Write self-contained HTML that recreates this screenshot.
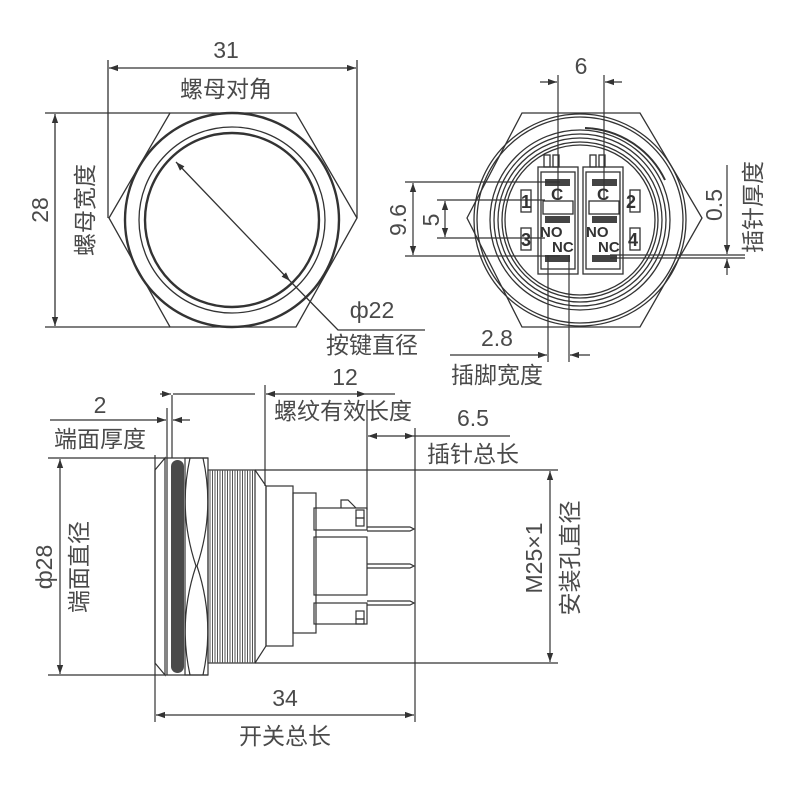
<!DOCTYPE html>
<html><head><meta charset="utf-8"><style>
html,body{margin:0;padding:0;background:#fff}
svg{display:block}
text{font-family:"Liberation Sans","Noto Sans CJK SC",sans-serif;fill:#4a4a4a;font-size:23px}
</style></head><body>
<svg width="800" height="800" viewBox="0 0 800 800" xmlns="http://www.w3.org/2000/svg">
<defs>
<marker id="a" viewBox="0 0 10 10" refX="10" refY="5" markerWidth="9" markerHeight="9" orient="auto-start-reverse" markerUnits="userSpaceOnUse"><path d="M0,1.5 L10,5 L0,8.5 z" fill="#333"/></marker>
</defs>
<g stroke="#333" fill="none" stroke-width="1.3">
<polygon points="109,218 170,113 296,113 357,218 296,327 170,327"/>
<circle cx="232" cy="220" r="107" stroke-width="2.4"/>
<circle cx="232" cy="220" r="93"/>
<circle cx="232" cy="220" r="87" stroke-width="2.4"/>
<line x1="176" y1="162" x2="290" y2="281" marker-start="url(#a)" marker-end="url(#a)"/>
<polyline points="290,281 338,330 425,330"/>
<line x1="108" y1="60" x2="108" y2="218"/>
<line x1="357" y1="60" x2="357" y2="218"/>
<line x1="109" y1="68" x2="356" y2="68" marker-start="url(#a)" marker-end="url(#a)"/>
<line x1="45" y1="113" x2="170" y2="113"/>
<line x1="45" y1="327" x2="170" y2="327"/>
<line x1="55" y1="114" x2="55" y2="326" marker-start="url(#a)" marker-end="url(#a)"/>

<polygon points="467,218 522,113 640,113 702,218 640,327 522,327"/>
<circle cx="580" cy="220" r="106"/>
<circle cx="580" cy="220" r="103"/>
<circle cx="580" cy="220" r="90"/>
<circle cx="580" cy="220" r="86"/>
<circle cx="580" cy="220" r="82"/>
<circle cx="580" cy="220" r="78"/>
<circle cx="580" cy="220" r="75"/>
<path d="M585,128 A92,92 0 0 1 665,180" stroke-width="2"/>
<rect x="538" y="167" width="40" height="107"/>
<rect x="583" y="167" width="40" height="107"/>
<rect x="541" y="172" width="34" height="97"/>
<rect x="586" y="172" width="34" height="97"/>
<rect x="544" y="155" width="6" height="12"/><rect x="553" y="155" width="6" height="12"/>
<rect x="590" y="155" width="6" height="12"/><rect x="599" y="155" width="6" height="12"/>
<rect x="543" y="201" width="30" height="13"/>
<rect x="589" y="201" width="30" height="13"/>
<rect x="521" y="190" width="10" height="22"/>
<rect x="630" y="190" width="10" height="22"/>
<rect x="521" y="228" width="10" height="22"/>
<rect x="630" y="228" width="10" height="22"/>
</g>
<g fill="#444">
<rect x="545" y="179" width="25" height="7"/><rect x="592" y="179" width="25" height="7"/>
<rect x="545" y="216" width="25" height="7"/><rect x="592" y="216" width="25" height="7"/>
<rect x="545" y="255" width="25" height="7"/><rect x="592" y="255" width="25" height="7"/>
</g>
<g>
<text x="551" y="200" style="font-size:17px;font-weight:bold;fill:#333">C</text>
<text x="597" y="200" style="font-size:17px;font-weight:bold;fill:#333">C</text>
<text x="540" y="237" style="font-size:15px;font-weight:bold;fill:#333">NO</text>
<text x="586" y="237" style="font-size:15px;font-weight:bold;fill:#333">NO</text>
<text x="552" y="252" style="font-size:15px;font-weight:bold;fill:#333">NC</text>
<text x="598" y="252" style="font-size:15px;font-weight:bold;fill:#333">NC</text>
<text x="521" y="208" style="font-size:18px;font-weight:bold;fill:#333">1</text>
<text x="626" y="208" style="font-size:18px;font-weight:bold;fill:#333">2</text>
<text x="521" y="246" style="font-size:18px;font-weight:bold;fill:#333">3</text>
<text x="628" y="246" style="font-size:18px;font-weight:bold;fill:#333">4</text>
</g>
<g stroke="#333" fill="none" stroke-width="1.2">
<line x1="558" y1="75" x2="558" y2="200"/>
<line x1="604" y1="75" x2="604" y2="200"/>
<line x1="540" y1="82" x2="557" y2="82" marker-end="url(#a)"/>
<line x1="622" y1="82" x2="605" y2="82" marker-end="url(#a)"/>
<line x1="405" y1="182" x2="560" y2="182"/>
<line x1="405" y1="256" x2="560" y2="256"/>
<line x1="437" y1="200" x2="545" y2="200"/>
<line x1="437" y1="238" x2="545" y2="238"/>
<line x1="413" y1="183" x2="413" y2="255" marker-start="url(#a)" marker-end="url(#a)"/>
<line x1="445" y1="201" x2="445" y2="237" marker-start="url(#a)" marker-end="url(#a)"/>
<line x1="610" y1="255" x2="745" y2="255"/>
<line x1="610" y1="258" x2="745" y2="258"/>
<line x1="727" y1="165" x2="727" y2="254" marker-end="url(#a)"/>
<line x1="727" y1="275" x2="727" y2="259" marker-end="url(#a)"/>
<line x1="548" y1="255" x2="548" y2="362"/>
<line x1="569" y1="255" x2="569" y2="362"/>
<line x1="450" y1="355" x2="547" y2="355" marker-end="url(#a)"/>
<line x1="590" y1="355" x2="570" y2="355" marker-end="url(#a)"/>

<path d="M165,458 L155,470 L155,663 L165,675 Z"/>
<line x1="167" y1="458" x2="167" y2="675"/>
<line x1="165" y1="458" x2="208" y2="458"/>
<line x1="165" y1="675" x2="208" y2="675"/>
<rect x="185" y="458" width="23" height="217"/>
<path d="M190,458 Q178,512 196,566 Q178,620 190,675"/>
<path d="M203,458 Q215,512 197,566 Q215,620 203,675"/>
<rect x="208" y="470" width="47" height="193"/>
<path d="M255,470 L266,486 L266,646 L255,663"/>
<rect x="266" y="486" width="27" height="160"/>
<rect x="293" y="493" width="23" height="140"/>
<rect x="314" y="508" width="53" height="22"/>
<rect x="314" y="537" width="53" height="58"/>
<rect x="314" y="603" width="53" height="21"/>
<rect x="356" y="510" width="8" height="8"/><rect x="356" y="518" width="8" height="8"/>
<rect x="356" y="611" width="8" height="8"/><rect x="356" y="619" width="8" height="5"/>
<path d="M341,508 L341,500 L348,500 L356,508"/>
<path d="M367,527 L410,527 L414,529 L410,531 L367,531"/>
<path d="M367,564 L410,564 L414,566 L410,568 L367,568"/>
<path d="M367,601 L410,601 L414,603 L410,605 L367,605"/>
<line x1="155" y1="455" x2="155" y2="722"/>
<line x1="172" y1="395" x2="172" y2="458"/>
<line x1="167" y1="408" x2="167" y2="458"/>
<line x1="50" y1="420" x2="166" y2="420" marker-end="url(#a)"/>
<line x1="190" y1="420" x2="173" y2="420" marker-end="url(#a)"/>
<line x1="160" y1="394" x2="171" y2="394" marker-end="url(#a)"/>
<line x1="173" y1="394" x2="255" y2="394"/>
<line x1="265" y1="385" x2="265" y2="486"/>
<line x1="367" y1="400" x2="367" y2="510"/>
<line x1="266" y1="394" x2="366" y2="394" marker-start="url(#a)" marker-end="url(#a)"/>
<line x1="366" y1="394" x2="395" y2="394"/>
<line x1="415" y1="428" x2="415" y2="722"/>
<line x1="368" y1="436" x2="414" y2="436" marker-start="url(#a)" marker-end="url(#a)"/>
<line x1="414" y1="436" x2="510" y2="436"/>
<line x1="156" y1="715" x2="414" y2="715" marker-start="url(#a)" marker-end="url(#a)"/>
<line x1="48" y1="458" x2="165" y2="458"/>
<line x1="48" y1="675" x2="165" y2="675"/>
<line x1="60" y1="459" x2="60" y2="674" marker-start="url(#a)" marker-end="url(#a)"/>
<line x1="255" y1="470" x2="558" y2="470"/>
<line x1="255" y1="663" x2="558" y2="663"/>
<line x1="550" y1="471" x2="550" y2="662" marker-start="url(#a)" marker-end="url(#a)"/>
</g>
<rect x="171" y="460" width="13" height="213" rx="6.5" fill="#4a4a4a"/>
<g stroke="#555" stroke-width="1">
<line x1="210" y1="470" x2="210" y2="663"/><line x1="212.5" y1="470" x2="212.5" y2="663"/>
<line x1="215" y1="470" x2="215" y2="663"/><line x1="217.5" y1="470" x2="217.5" y2="663"/>
<line x1="220" y1="470" x2="220" y2="663"/><line x1="222.5" y1="470" x2="222.5" y2="663"/>
<line x1="225" y1="470" x2="225" y2="663"/><line x1="227.5" y1="470" x2="227.5" y2="663"/>
<line x1="230" y1="470" x2="230" y2="663"/><line x1="232.5" y1="470" x2="232.5" y2="663"/>
<line x1="235" y1="470" x2="235" y2="663"/><line x1="237.5" y1="470" x2="237.5" y2="663"/>
<line x1="240" y1="470" x2="240" y2="663"/><line x1="242.5" y1="470" x2="242.5" y2="663"/>
<line x1="245" y1="470" x2="245" y2="663"/><line x1="247.5" y1="470" x2="247.5" y2="663"/>
<line x1="250" y1="470" x2="250" y2="663"/><line x1="252.5" y1="470" x2="252.5" y2="663"/>
</g>

<text x="226" y="58" text-anchor="middle">31</text>
<text x="226" y="97" text-anchor="middle">螺母对角</text>
<text transform="translate(48,210) rotate(-90)" text-anchor="middle">28</text>
<text transform="translate(93,210) rotate(-90)" text-anchor="middle">螺母宽度</text>
<text x="372" y="318" text-anchor="middle">ф22</text>
<text x="372" y="353" text-anchor="middle">按键直径</text>
<text x="581" y="74" text-anchor="middle">6</text>
<text transform="translate(406,220) rotate(-90)" text-anchor="middle">9.6</text>
<text transform="translate(439,220) rotate(-90)" text-anchor="middle">5</text>
<text transform="translate(722,205) rotate(-90)" text-anchor="middle">0.5</text>
<text transform="translate(761,207) rotate(-90)" text-anchor="middle">插针厚度</text>
<text x="497" y="346" text-anchor="middle">2.8</text>
<text x="497" y="383" text-anchor="middle">插脚宽度</text>
<text x="100" y="413" text-anchor="middle">2</text>
<text x="100" y="447" text-anchor="middle">端面厚度</text>
<text x="345" y="385" text-anchor="middle">12</text>
<text x="343" y="419" text-anchor="middle">螺纹有效长度</text>
<text x="473" y="426" text-anchor="middle">6.5</text>
<text x="473" y="462" text-anchor="middle">插针总长</text>
<text transform="translate(52,567) rotate(-90)" text-anchor="middle">ф28</text>
<text transform="translate(87,567) rotate(-90)" text-anchor="middle">端面直径</text>
<text transform="translate(542,558) rotate(-90)" text-anchor="middle">M25×1</text>
<text transform="translate(578,558) rotate(-90)" text-anchor="middle">安装孔直径</text>
<text x="285" y="706" text-anchor="middle">34</text>
<text x="285" y="744" text-anchor="middle">开关总长</text>
</svg>
</body></html>
